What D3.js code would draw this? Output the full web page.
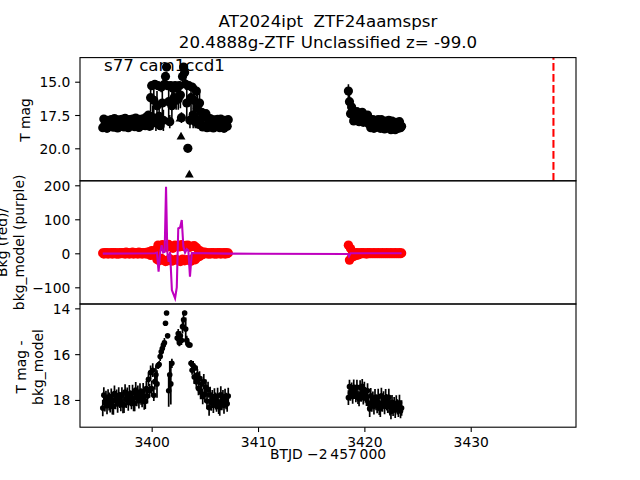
<!DOCTYPE html>
<html><head><meta charset="utf-8">
<script src="https://cdn.jsdelivr.net/npm/d3@7"></script>
<style>body{margin:0;background:#fff}svg{display:block}</style>
</head><body>
<svg id="chart" width="640" height="480"></svg>
<script>
// ---------------- DATA ----------------
const titleLines = ["AT2024ipt  ZTF24aamspsr", "20.4888g-ZTF Unclassified z= -99.0"];
const sectorLabel = "s77 cam1ccd1";
const refTime = 3437.78;

const tessTime = [
3395.4,3395.5,3395.6,3395.7,3395.8,3395.9,3396.0,3396.1,3396.2,3396.3,
3396.4,3396.5,3396.6,3396.7,3396.8,3396.9,3397.0,3397.1,3397.2,3397.3,
3397.4,3397.5,3397.6,3397.7,3397.8,3397.9,3398.0,3398.1,3398.2,3398.3,
3398.4,3398.5,3398.6,3398.7,3398.8,3398.9,3399.0,3399.1,3399.2,3399.3,
3399.4,3399.5,3399.6,3399.7,3399.8,3399.9,3400.0,3400.1,3400.2,3400.3,
3400.4,3400.5,3400.6,3400.7,3400.8,3400.9,3401.0,3401.1,3401.2,3401.3,
3401.4,3401.5,3401.6,3401.7,3401.8,3401.9,3402.0,3402.1,3402.2,3402.3,
3402.4,3402.5,3402.6,3402.7,3402.8,3402.9,3403.0,3403.1,3403.2,3403.3,
3403.4,3403.5,3403.6,3403.7,3403.8,3403.9,3404.0,3404.1,3404.2,3404.3,
3404.4,3404.5,3404.6,3404.7,3404.8,3404.9,3405.0,3405.1,3405.2,3405.3,
3405.4,3405.5,3405.6,3405.7,3405.8,3405.9,3406.0,3406.1,3406.2,3406.3,
3406.4,3406.5,3406.6,3406.7,3406.8,3406.9,3407.0,3407.1,3407.2,
3418.5,3418.6,3418.7,3418.8,3418.9,3419.0,3419.1,3419.2,3419.3,3419.4,
3419.5,3419.6,3419.7,3419.8,3419.9,3420.0,3420.1,3420.2,3420.3,3420.4,
3420.5,3420.6,3420.7,3420.8,3420.9,3421.0,3421.1,3421.2,3421.3,3421.4,
3421.5,3421.6,3421.7,3421.8,3421.9,3422.0,3422.1,3422.2,3422.3,3422.4,
3422.5,3422.6,3422.7,3422.8,3422.9,3423.0,3423.1,3423.2,3423.3,3423.4,
3423.5];

const tessMag = [
18.45,17.80,18.25,18.00,18.50,17.90,18.15,18.35,17.85,18.30,
18.42,17.77,18.22,17.97,18.47,17.87,18.12,18.32,17.82,18.27,
18.40,17.75,18.20,17.95,18.45,17.85,18.10,18.30,17.80,18.25,
18.38,17.73,18.18,17.93,18.43,17.83,18.08,18.28,17.78,18.23,
18.30,17.65,18.10,17.50,18.35,16.20,15.30,17.70,16.40,15.20,
18.10,16.80,15.30,17.60,18.30,15.40,16.60,17.90,15.20,14.60,
13.90,15.30,16.50,18.00,15.30,16.80,15.50,16.20,15.30,16.40,
15.40,16.30,15.30,16.00,17.70,14.60,13.90,14.30,15.20,16.60,
20.00,15.30,17.90,16.20,15.40,17.50,16.40,18.00,15.70,17.00,
18.20,16.60,17.80,17.30,18.40,17.60,18.30,17.40,18.45,17.75,
18.42,17.77,18.22,17.97,18.47,17.87,18.12,18.32,17.82,18.27,
18.45,17.80,18.25,18.00,18.50,17.90,18.15,18.35,17.85,
15.70,16.50,17.40,16.90,17.30,17.95,17.40,17.85,17.25,17.70,
18.00,17.45,17.80,17.30,18.05,17.55,17.75,17.95,17.50,18.15,
17.80,18.45,18.00,17.85,18.50,17.90,18.15,18.35,17.85,18.30,
18.50,17.85,18.30,18.05,18.55,17.95,18.20,18.40,17.90,18.35,
18.60,17.95,18.40,18.15,18.60,18.05,18.30,18.50,18.00,18.45,
18.35];

const tessMagErr = [
0.15,0.12,0.16,0.14,0.15,0.13,0.17,0.14,0.15,0.12,
0.16,0.14,0.15,0.13,0.17,0.15,0.14,0.16,0.13,0.15,
0.15,0.13,0.16,0.14,0.15,0.17,0.14,0.15,0.16,0.13,
0.15,0.14,0.16,0.15,0.13,0.17,0.15,0.14,0.16,0.15,
0.15,0.16,0.15,0.20,0.20,1.00,0.30,0.90,1.10,0.30,
0.60,1.10,0.30,1.00,0.30,0.40,1.20,0.80,0.30,0.30,
0.30,0.30,1.20,0.50,0.30,1.00,0.40,0.80,0.30,0.70,
0.40,0.80,0.30,1.00,0.40,0.50,0.30,0.40,0.40,1.20,
0.10,0.30,0.60,1.10,0.30,1.00,1.10,0.50,0.40,1.10,
0.30,0.80,0.40,0.30,0.20,0.20,0.20,0.20,0.15,0.15,
0.15,0.14,0.16,0.15,0.13,0.15,0.16,0.14,0.15,0.13,
0.15,0.16,0.14,0.15,0.16,0.13,0.15,0.14,0.15,
0.50,0.80,0.70,0.60,0.40,0.20,0.15,0.15,0.15,0.15,
0.15,0.14,0.16,0.15,0.14,0.16,0.15,0.14,0.16,0.15,
0.15,0.16,0.14,0.15,0.16,0.15,0.14,0.16,0.15,0.14,
0.16,0.15,0.14,0.16,0.15,0.14,0.16,0.15,0.14,0.16,
0.15,0.14,0.16,0.15,0.14,0.16,0.15,0.14,0.16,0.15,
0.15];

const bkgFlux = [
1,-2,2,-1,2,-2,1,-1,2,-2,
2,-1,2,-2,1,-2,2,-1,2,-1,
2,-2,3,-1,2,-2,1,-1,3,-2,
2,-1,2,-2,3,-1,2,-2,2,-1,
2,-2,3,-1,4,-6,8,-4,6,-5,
10,-18,24,-22,20,-15,25,-20,22,-24,
18,-22,26,-16,21,-23,15,-20,24,-18,
22,-21,19,-24,25,-17,20,-22,23,-19,
24,-20,18,-23,21,-15,22,-19,17,-12,
10,-9,6,-5,3,-2,3,-1,2,-2,
1,-2,2,-1,2,-2,1,-2,2,-1,
2,-2,1,-1,2,-2,2,-1,1,
24,-20,14,-12,2,-9,1,-6,2,-5,
1,-2,2,-1,2,-1,1,-2,2,-1,
2,-1,1,-1,2,-1,1,-1,2,-1,
1,-1,2,-1,1,-1,2,-1,1,-1,
2,-1,1,-1,2,-1,1,-1,2,-1,
1];

const diffMag = [
18.35,17.79,18.12,17.95,18.25,17.87,18.07,18.19,17.85,18.29,
18.28,17.72,18.05,17.88,18.18,17.80,18.00,18.12,17.78,18.22,
18.21,17.65,17.98,17.81,18.11,17.73,17.93,18.05,17.71,18.15,
18.13,17.57,17.90,17.73,18.03,17.65,17.85,17.97,17.63,18.07,
18.06,17.50,17.83,17.10,17.60,16.80,17.50,16.70,17.80,17.20,
16.90,17.30,16.50,16.45,16.10,15.90,15.75,15.60,15.50,14.65,
14.20,15.20,17.60,16.90,17.30,16.40,null,null,null,null,
15.30,15.10,15.50,15.20,15.40,14.80,14.50,14.20,14.90,15.40,
15.55,15.60,15.60,16.40,16.70,16.50,17.00,16.60,17.20,16.90,
17.50,17.05,17.65,17.30,17.85,17.20,17.75,17.45,18.05,17.55,
18.33,17.77,18.10,17.93,18.23,17.85,18.05,18.17,17.83,18.27,
18.33,17.77,18.10,17.93,18.23,17.85,18.05,18.17,17.83,
17.90,17.42,17.70,17.55,17.85,17.45,17.65,17.78,17.45,17.88,
17.95,17.45,17.75,17.40,17.90,17.55,17.80,17.95,17.60,18.15,
18.38,17.82,18.15,17.98,18.28,17.90,18.10,18.22,17.88,18.32,
18.38,17.82,18.15,17.98,18.28,17.90,18.10,18.22,17.88,18.32,
18.50,18.10,18.35,18.20,18.45,18.15,18.30,18.40,18.12,18.48,
18.35];

const diffMagErr = [
0.36,0.34,0.38,0.35,0.37,0.34,0.39,0.36,0.35,0.34,
0.37,0.35,0.36,0.34,0.38,0.36,0.35,0.37,0.34,0.36,
0.36,0.34,0.37,0.35,0.36,0.38,0.35,0.36,0.37,0.34,
0.36,0.35,0.37,0.36,0.34,0.38,0.36,0.35,0.37,0.36,
0.34,0.34,0.33,0.30,0.30,0.30,0.35,0.30,0.25,0.35,
0.40,0.60,0.15,0.15,0.20,0.20,0.20,0.20,0.20,0.05,
0.05,0.05,0.70,0.60,0.90,0.20,null,null,null,null,
0.15,0.20,0.15,0.20,0.20,0.30,0.30,0.10,0.50,0.20,
0.05,0.05,0.05,0.15,0.20,0.20,0.30,0.10,0.30,0.25,
0.30,0.30,0.32,0.32,0.34,0.33,0.35,0.34,0.36,0.35,
0.36,0.35,0.37,0.36,0.34,0.36,0.37,0.35,0.36,0.34,
0.36,0.37,0.35,0.36,0.37,0.34,0.36,0.35,0.36,
0.32,0.30,0.33,0.31,0.32,0.34,0.31,0.32,0.33,0.30,
0.32,0.31,0.33,0.32,0.30,0.34,0.32,0.31,0.33,0.34,
0.36,0.34,0.37,0.35,0.36,0.38,0.35,0.36,0.37,0.34,
0.36,0.35,0.37,0.36,0.34,0.38,0.36,0.35,0.37,0.36,
0.34,0.32,0.35,0.33,0.34,0.36,0.33,0.34,0.35,0.32,
0.34];

// purple background model line
const modelTime = [3395.4,3400.3,3400.5,3400.65,3400.8,3400.94,3401.08,3401.22,3401.35,3401.47,
  3401.6,3401.73,3401.9,3402.2,3402.36,3402.5,3402.67,3402.83,3402.98,3403.14,
  3403.3,3403.45,3403.6,3403.77,3407.2,3418.45,3418.55,3418.7,3423.5];
const bkgModel = [-1,0,2,-54,3,24,2,4,196,3,
  -25,4,-108,-132,-100,73,76,98,20,2,
  12,8,-69,1,-1,-2,-9,0,0];

// upper limits (triangles)
const limitTime = [3402.66, 3402.76, 3403.54];
const limitMag = [17.8, 19.15, 22.0];

// axis ticks
const xTicks = [3400, 3410, 3420, 3430];
const topTicks = [15.0, 17.5, 20.0];
const midTicks = [200, 100, 0, -100];
const botTicks = [14, 16, 18];

// ---------------- DRAW ----------------
const svg = d3.select("#chart");
const FONT = "DejaVu Sans";
const L = 80, R = 576, H = 123.2;
const tops = [57.6, 180.8, 304];

const x = d3.scaleLinear().domain([3393.26, 3439.90]).range([L, R]);
const yTop = d3.scaleLinear().domain([13.19, 22.44]).range([tops[0], tops[0] + H]);
const yMid = d3.scaleLinear().domain([213.2, -149.1]).range([tops[1], tops[1] + H]);
const yBot = d3.scaleLinear().domain([13.81, 19.19]).range([tops[2], tops[2] + H]);

const rows = tessTime.map((t, i) => ({t, m: tessMag[i], e: tessMagErr[i], b: bkgFlux[i], d: diffMag[i], de: diffMagErr[i]}));

const defs = svg.append("defs");
tops.forEach((tp, i) => defs.append("clipPath").attr("id", "clip" + i)
  .append("rect").attr("x", L).attr("y", tp).attr("width", R - L).attr("height", H));

// Top panel
const g0 = svg.append("g").attr("clip-path", "url(#clip0)");
g0.selectAll("line.err").data(rows).join("line").attr("class", "err")
  .attr("x1", d => x(d.t)).attr("x2", d => x(d.t))
  .attr("y1", d => yTop(d.m - d.e)).attr("y2", d => yTop(d.m + d.e))
  .attr("stroke", "#000").attr("stroke-width", 1.6);
g0.selectAll("circle").data(rows).join("circle")
  .attr("cx", d => x(d.t)).attr("cy", d => yTop(d.m)).attr("r", 4.6).attr("fill", "#000");
g0.selectAll("path.lim").data(limitTime).join("path").attr("class", "lim")
  .attr("d", d3.symbol(d3.symbolTriangle, 34))
  .attr("transform", (d, i) => `translate(${x(d)},${yTop(limitMag[i])})`)
  .attr("fill", "#000");
g0.append("line").attr("x1", x(refTime)).attr("x2", x(refTime))
  .attr("y1", tops[0] + H).attr("y2", tops[0])
  .attr("stroke", "#ff0000").attr("stroke-width", 2.08).attr("stroke-dasharray", "7.7,3.3");

// Middle panel
const g1 = svg.append("g").attr("clip-path", "url(#clip1)");
g1.selectAll("circle").data(rows).join("circle")
  .attr("cx", d => x(d.t)).attr("cy", d => yMid(d.b)).attr("r", 4.7).attr("fill", "#ff0000");
g1.append("path").datum(modelTime.map((t, i) => [t, bkgModel[i]]))
  .attr("d", d3.line().x(d => x(d[0])).y(d => yMid(d[1])))
  .attr("fill", "none").attr("stroke", "#bf00bf").attr("stroke-width", 2.08);

// Bottom panel
const g2 = svg.append("g").attr("clip-path", "url(#clip2)");
const okRows = rows.filter(d => d.d !== null);
g2.selectAll("line.err").data(okRows).join("line").attr("class", "err")
  .attr("x1", d => x(d.t)).attr("x2", d => x(d.t))
  .attr("y1", d => yBot(d.d - d.de)).attr("y2", d => yBot(d.d + d.de))
  .attr("stroke", "#000").attr("stroke-width", 1.7);
g2.selectAll("circle").data(okRows).join("circle")
  .attr("cx", d => x(d.t)).attr("cy", d => yBot(d.d)).attr("r", 2.8).attr("fill", "#000");

// Frames
tops.forEach(tp => svg.append("rect").attr("x", L).attr("y", tp).attr("width", R - L).attr("height", H)
  .attr("fill", "none").attr("stroke", "#000").attr("stroke-width", 1.1));

// Axes
function styleAxis(g) {
  g.attr("font-family", FONT).attr("font-size", "13.89px");
  g.select(".domain").remove();
  g.selectAll(".tick line").attr("stroke", "#000").attr("stroke-width", 1.1);
  g.selectAll(".tick text").attr("fill", "#000");
}
function yAxis(scale, ticks, fmt) {
  const g = svg.append("g").attr("transform", `translate(${L},0)`)
    .call(d3.axisLeft(scale).tickValues(ticks).tickFormat(fmt).tickSize(4.86).tickPadding(4.86));
  styleAxis(g);
  g.selectAll(".tick text").attr("dy", "0.36em");
}
yAxis(yTop, topTicks, d3.format(".1f"));
yAxis(yMid, midTicks, d3.format("d"));
yAxis(yBot, botTicks, d3.format("d"));
const gx = svg.append("g").attr("transform", `translate(0,${tops[2] + H})`)
  .call(d3.axisBottom(x).tickValues(xTicks).tickFormat(d3.format("d")).tickSize(4.86).tickPadding(4.86));
styleAxis(gx);

// Texts
const title = svg.append("text").attr("font-family", FONT).attr("font-size", "16.67px")
  .attr("text-anchor", "middle").attr("fill", "#000").style("white-space", "pre");
title.append("tspan").attr("x", 328).attr("y", 27.3).text(titleLines[0]);
title.append("tspan").attr("x", 328).attr("y", 47.5).text(titleLines[1]);

svg.append("text").attr("x", 104).attr("y", 71.4).attr("font-family", FONT).attr("font-size", "16.67px")
  .attr("fill", "#000").text(sectorLabel);

function ylabel(lines, cy, xs) {
  lines.forEach((s, i) => svg.append("text")
    .attr("transform", `translate(${xs[i]},${cy}) rotate(-90)`)
    .attr("text-anchor", "middle").attr("font-family", FONT).attr("font-size", "13.89px")
    .attr("fill", "#000").style("white-space", "pre").text(s));
}
ylabel(["T mag"], 120, [30]);
ylabel(["Bkg (red)/", "bkg_model (purple)"], 242.4, [6.5, 23.5]);
ylabel(["T mag -", "bkg_model"], 367, [25.5, 43]);

svg.append("text").attr("x", 328).attr("y", 458.5).attr("text-anchor", "middle")
  .attr("font-family", FONT).attr("font-size", "13.89px").attr("fill", "#000")
  .text("BTJD \u22122\u2009457\u2009000");
</script>
</body></html>
